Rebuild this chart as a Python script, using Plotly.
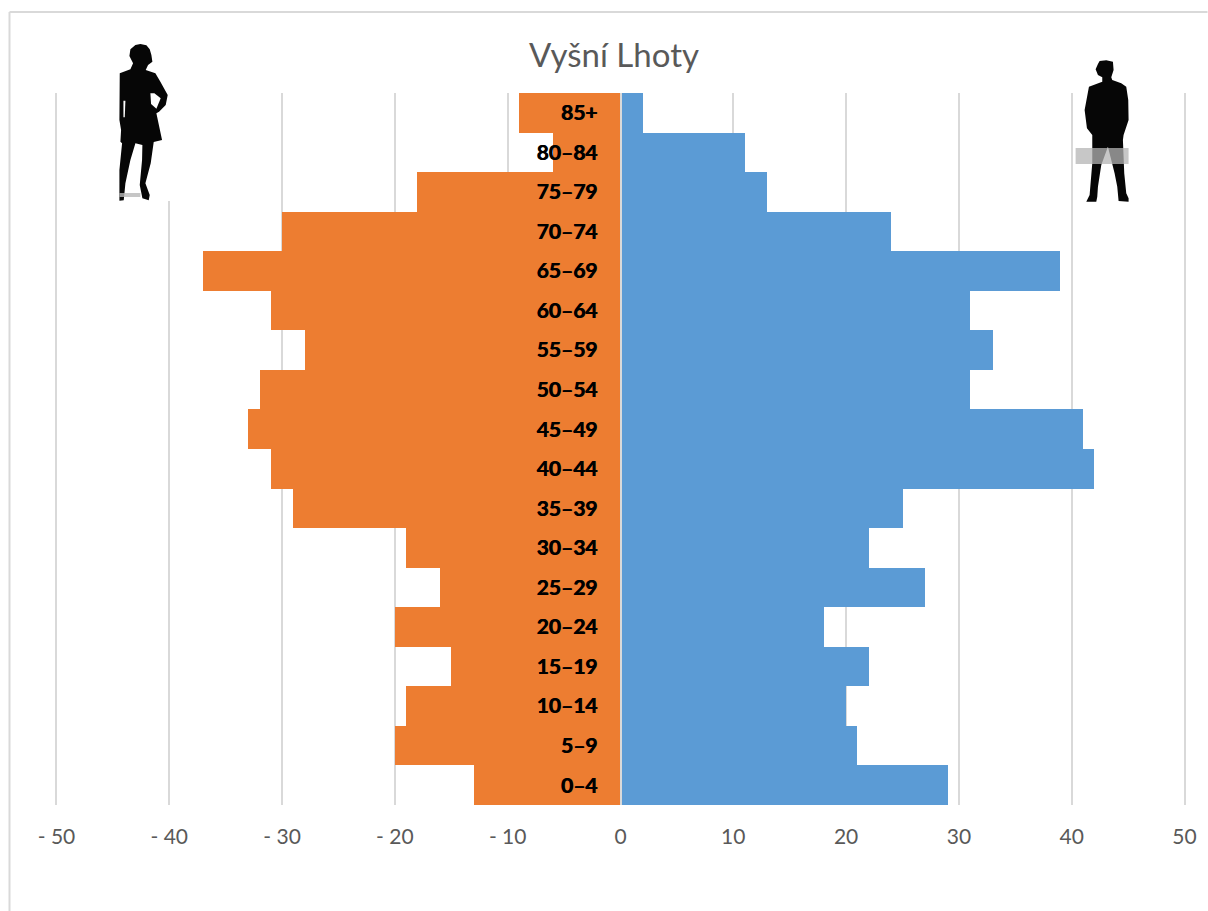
import plotly.graph_objects as go

W, H = 1208, 911
X_MIN_PX, X_MAX_PX = 56.0, 1185.0
SCALE = (X_MAX_PX - X_MIN_PX) / 100
RANGE_PAD = 0.13  # keeps the outermost gridlines from being clipped
L, R = X_MIN_PX - RANGE_PAD * SCALE, X_MAX_PX + RANGE_PAD * SCALE
T, B = 93.0, 805.0

age_groups = ["0–4", "5–9", "10–14", "15–19", "20–24", "25–29", "30–34", "35–39", "40–44",
              "45–49", "50–54", "55–59", "60–64", "65–69", "70–74", "75–79", "80–84", "85+"]
women = [-13, -20, -19, -15, -20, -16, -19, -29, -31, -33, -32, -28, -31, -37, -30, -18, -6, -9]
men = [29, 21, 20, 22, 18, 27, 22, 25, 42, 41, 31, 33, 31, 39, 24, 13, 11, 2]
x_ticks = [-50, -40, -30, -20, -10, 0, 10, 20, 30, 40, 50]
x_tick_labels = ["- 50", "- 40", "- 30", "- 20", "- 10", "0", "10", "20", "30", "40", "50"]
title_text = "Vyšní Lhoty"

FONT = "Lato, Carlito, 'Open Sans', sans-serif"
GRID = "#D9D9D9"
TEXT = "#595959"


def px(x):
    return (x - L) / (R - L)


def py(y):
    return (B - y) / (B - T)


def path(points, ox, oy):
    """Decorative silhouette outline from crop coordinates (3x) to paper coordinates."""
    parts = [f"{px(ox + a / 3):.5f},{py(oy + b / 3):.5f}" for a, b in points]
    return "M" + " L".join(parts) + " Z"


woman_pts = [(165, 45), (180, 42), (198, 46), (208, 58), (213, 75), (216, 95), (203, 105), (196, 120),
             (225, 130), (240, 155), (262, 195), (256, 225), (236, 245), (228, 250), (245, 330),
             (220, 336), (211, 400), (195, 460), (208, 495), (205, 511), (186, 505), (178, 465),
             (185, 390), (186, 345), (165, 340), (150, 390), (135, 460), (130, 511), (117, 512),
             (117, 420), (125, 340), (120, 335), (122, 300), (117, 270), (118, 130), (150, 118),
             (158, 100), (147, 78), (150, 58)]
woman_gap = [(210, 190), (222, 190), (241, 205), (228, 236), (212, 222)]
woman_gap2 = [(129, 212), (135, 212), (133, 262), (129, 262)]
man_pts = [(150, 63), (170, 61), (190, 65), (192, 90), (185, 112), (188, 120), (215, 130), (230, 140),
           (236, 180), (237, 240), (222, 285), (220, 300), (224, 400), (230, 460), (237, 475),
           (237, 485), (207, 483), (203, 440), (195, 400), (175, 320), (155, 375), (145, 440),
           (143, 470), (140, 485), (110, 485), (120, 465), (128, 370), (128, 285), (112, 265),
           (105, 210), (118, 140), (158, 125), (158, 112), (145, 105), (138, 88), (145, 72)]

shapes = [
    # chart frame
    dict(type="line", xref="paper", yref="paper", x0=px(9), x1=px(9), y0=py(12), y1=py(H),
         line=dict(color=GRID, width=2), layer="above"),
    dict(type="line", xref="paper", yref="paper", x0=px(9), x1=px(W), y0=py(12), y1=py(12),
         line=dict(color=GRID, width=2), layer="above"),
    # white background of the woman picture
    dict(type="rect", xref="paper", yref="paper", x0=px(119), x1=px(171), y0=py(44), y1=py(201),
         fillcolor="white", line=dict(width=0), layer="above"),
    dict(type="path", xref="paper", yref="paper", path=path(woman_pts, 80, 30),
         fillcolor="#060606", line=dict(width=0), layer="above"),
    dict(type="path", xref="paper", yref="paper", path=path(woman_gap, 80, 30),
         fillcolor="white", line=dict(width=0), layer="above"),
    dict(type="path", xref="paper", yref="paper", path=path(woman_gap2, 80, 30),
         fillcolor="white", line=dict(width=0), layer="above"),
    dict(type="rect", xref="paper", yref="paper", x0=px(119), x1=px(140), y0=py(193), y1=py(197),
         fillcolor="#B8B8B8", opacity=0.8, line=dict(width=0), layer="above"),
    dict(type="path", xref="paper", yref="paper", path=path(man_pts, 1050, 40),
         fillcolor="#060606", line=dict(width=0), layer="above"),
    dict(type="rect", xref="paper", yref="paper", x0=px(1076), x1=px(1129), y0=py(148), y1=py(164),
         fillcolor="#B4B4B4", opacity=0.75, line=dict(width=0), layer="above"),
]

fig = go.Figure()
fig.add_trace(go.Bar(y=age_groups, x=women, orientation="h", name="Ženy",
                     marker=dict(color="#ED7D31", line=dict(width=0))))
fig.add_trace(go.Bar(y=age_groups, x=men, orientation="h", name="Muži",
                     marker=dict(color="#5B9BD5", line=dict(width=0))))

fig.update_layout(
    width=W, height=H, autosize=False,
    margin=dict(l=L, r=W - R, t=T, b=H - B, pad=0),
    paper_bgcolor="white", plot_bgcolor="white",
    barmode="relative", bargap=0, showlegend=False,
    font=dict(family=FONT, color=TEXT),
    title=dict(text=title_text, x=614 / W, xanchor="center", y=1 - 55 / H, yanchor="middle",
               font=dict(family=FONT, size=33, color=TEXT)),
    xaxis=dict(range=[-50 - RANGE_PAD, 50 + RANGE_PAD], tickmode="array", tickvals=x_ticks,
               ticktext=x_tick_labels,
               showgrid=True, gridcolor=GRID, gridwidth=2, zeroline=False, showline=False,
               ticks="outside", ticklen=13, tickcolor="rgba(0,0,0,0)",
               tickfont=dict(family=FONT, size=21, color=TEXT)),
    yaxis=dict(type="category", categoryorder="array", categoryarray=age_groups,
               range=[-0.5, 17.5], anchor="free", position=0.5, showgrid=False, zeroline=False,
               showline=True, linecolor=GRID, linewidth=2,
               ticks="outside", ticklen=18, tickcolor="rgba(0,0,0,0)",
               tickfont=dict(family="Lato, Carlito, sans-serif", size=21, color="black", weight="bold",
                             shadow="0.7px 0 0 black")),
    shapes=shapes,
)

fig.write_html("out.html", config={"displayModeBar": False},
               post_script="document.body.style.margin='0';")
